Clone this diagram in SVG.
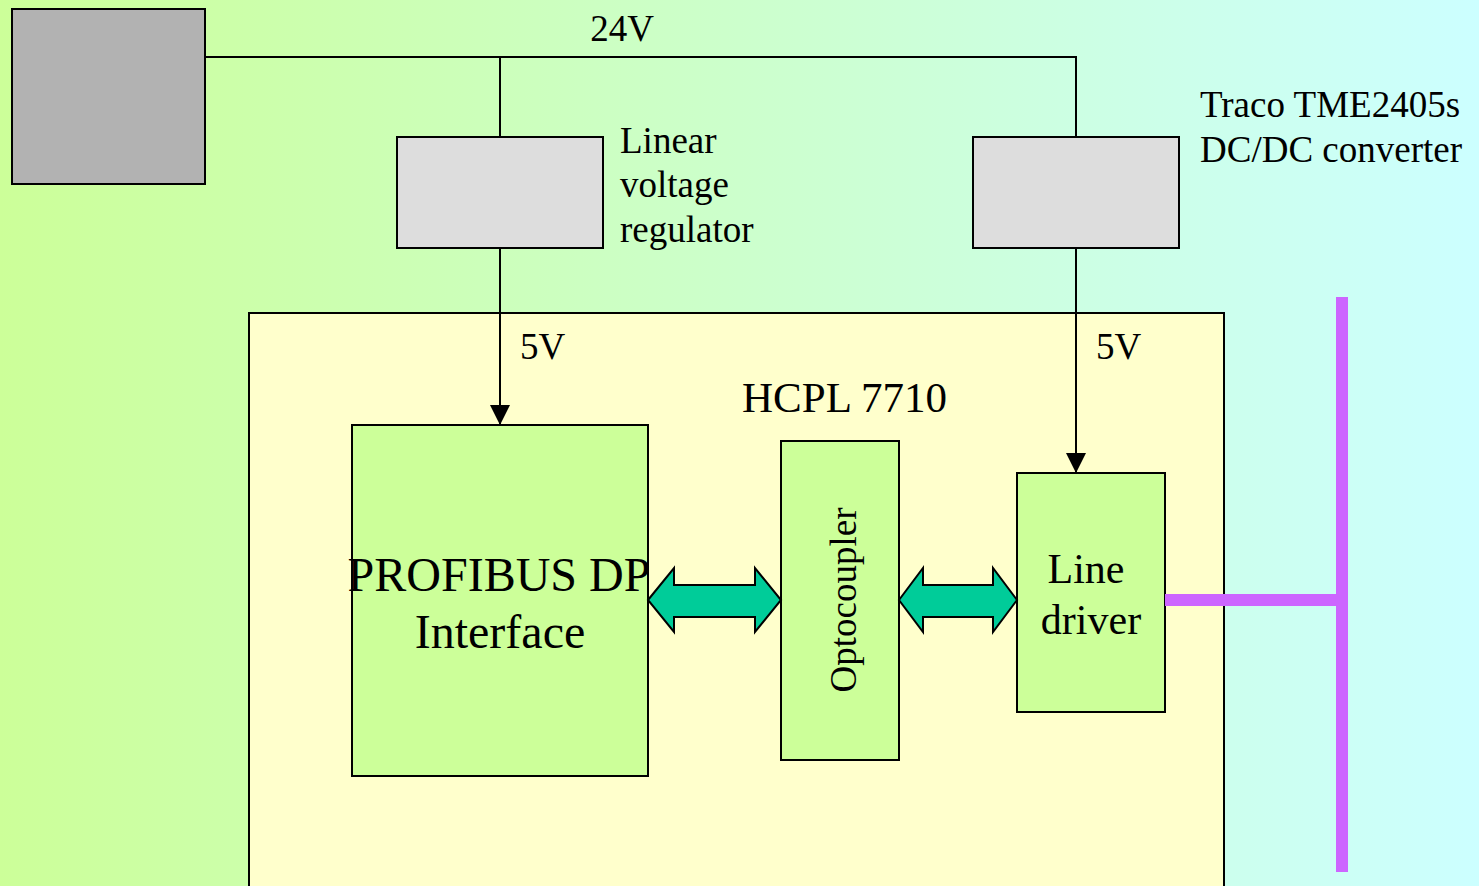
<svg xmlns="http://www.w3.org/2000/svg" width="1479" height="886" viewBox="0 0 1479 886">
<defs>
<linearGradient id="bg" x1="0" y1="0" x2="1" y2="0">
<stop offset="0" stop-color="#CCFF99"/>
<stop offset="1" stop-color="#CCFFFF"/>
</linearGradient>
<marker id="ah" markerWidth="20" markerHeight="20" viewBox="0 0 20 20" refX="20" refY="10" orient="auto" markerUnits="userSpaceOnUse">
<path d="M0,0 L20,10 L0,20 Z" fill="#000"/>
</marker>
</defs>
<style>
.box{stroke:#000;stroke-width:2}
.t{font-family:"Liberation Serif","Times New Roman",serif;fill:#000}
.wire{stroke:#000;stroke-width:2;fill:none}
.darr{fill:#00CC99;stroke:#000;stroke-width:2}
.bus{stroke:#CC66FF;stroke-width:12;fill:none}
</style>
<rect x="0" y="0" width="1479" height="886" fill="url(#bg)"/>
<g id="board"><rect class="box" x="249" y="313" width="975" height="580" fill="#FFFFCC"/></g>
<g id="supply"><rect class="box" x="12" y="9" width="193" height="175" fill="#B2B2B2"/></g>
<g id="regulator"><rect class="box" x="397" y="137" width="206" height="111" fill="#DDDDDD"/>
<text class="t" font-size="37" x="620" y="153">Linear</text>
<text class="t" font-size="37" x="620" y="197">voltage</text>
<text class="t" font-size="37" x="620" y="242">regulator</text></g>
<g id="dcdc"><rect class="box" x="973" y="137" width="206" height="111" fill="#DDDDDD"/>
<text class="t" font-size="37" x="1200" y="117">Traco TME2405s</text>
<text class="t" font-size="37" x="1200" y="162">DC/DC converter</text></g>
<g id="profibus"><rect class="box" x="352" y="425" width="296" height="351" fill="#CCFF99"/>
<text class="t" font-size="48" x="499" y="591" text-anchor="middle">PROFIBUS DP</text>
<text class="t" font-size="48" x="500" y="648" text-anchor="middle">Interface</text></g>
<g id="opto"><rect class="box" x="781" y="441" width="118" height="319" fill="#CCFF99"/>
<text class="t" font-size="37" transform="translate(856,600) rotate(-90)" text-anchor="middle">Optocoupler</text>
<text class="t" font-size="43" x="742" y="412">HCPL 7710</text></g>
<g id="linedriver"><rect class="box" x="1017" y="473" width="148" height="239" fill="#CCFF99"/>
<text class="t" font-size="42" x="1086" y="583" text-anchor="middle">Line</text>
<text class="t" font-size="42" x="1091" y="634" text-anchor="middle">driver</text></g>
<g id="connectors">
<polyline class="wire" points="205,57 1076,57 1076,137"/>
<line class="wire" x1="500" y1="57" x2="500" y2="137"/>
<line class="wire" x1="500" y1="248" x2="500" y2="425" marker-end="url(#ah)"/>
<line class="wire" x1="1076" y1="248" x2="1076" y2="473" marker-end="url(#ah)"/>
<text class="t" font-size="37" x="622" y="41" text-anchor="middle">24V</text>
<text class="t" font-size="37" x="520" y="359">5V</text>
<text class="t" font-size="37" x="1096" y="359">5V</text>
<path class="darr" d="M648,600 L674,568 L674,585 L755,585 L755,568 L781,600 L755,632 L755,617 L674,617 L674,632 Z"/>
<path class="darr" d="M899,600 L923,568 L923,585 L993,585 L993,568 L1017,600 L993,632 L993,617 L923,617 L923,632 Z"/>
<line class="bus" x1="1342" y1="297" x2="1342" y2="872"/>
<line class="bus" x1="1165" y1="600" x2="1342" y2="600" stroke-width="11"/>
</g>
</svg>
